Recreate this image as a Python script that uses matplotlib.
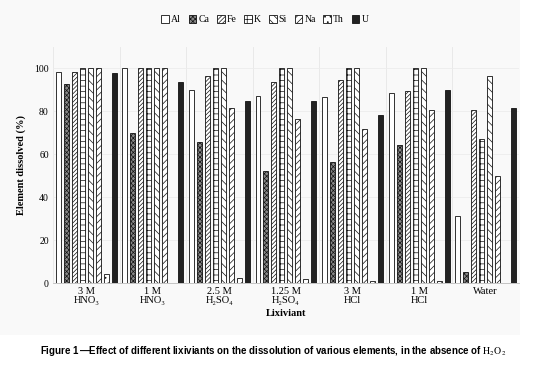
import matplotlib
matplotlib.use("Agg")
import matplotlib.pyplot as plt
from matplotlib.patches import Rectangle
import numpy as np

plt.rcParams['mathtext.fontset'] = 'stix'
plt.rcParams['hatch.linewidth'] = 0.5

# data
lixiviants = ["3 M\nHNO₃", "1 M\nHNO₃", "2.5 M\nH₂SO₄", "1.25 M\nH₂SO₄",
              "3 M\nHCl", "1 M\nHCl", "Water"]
elements = ["Al", "Ca", "Fe", "K", "Si", "Na", "Th", "U"]
al = [98.4, 100, 90.0, 87.0, 86.7, 88.5, 31.3]
ca = [92.6, 69.9, 65.6, 52.0, 56.6, 64.3, 5.1]
fe = [98.3, 100, 96.6, 93.8, 94.4, 89.6, 80.5]
k = [100, 100, 100, 100, 100, 100, 67.1]
si = [100, 100, 100, 100, 100, 100, 96.6]
na = [100, 100, 81.4, 76.4, 71.8, 80.5, 49.8]
th = [4.0, 0, 2.3, 2.0, 1.0, 1.0, 0]
u = [97.8, 93.8, 85.0, 85.0, 78.3, 90.0, 81.6]
series = [al, ca, fe, k, si, na, th, u]

hatches = ['', 'xxxxxxx', '////////', '+++', '\\\\\\\\', '/////', '...', '']
faces = ['white', '#888888', 'white', 'white', 'white', 'white', 'white', '#222222']

serif = ['Liberation Serif', 'DejaVu Serif']

fig = plt.figure(figsize=(5.35, 3.69), dpi=100)
fig.patches.append(Rectangle((0, 0.092), 0.972, 0.908, transform=fig.transFigure,
                             facecolor='#f9f9f9', edgecolor='none', zorder=-10))
ax = fig.add_axes([0.099, 0.233, 0.871, 0.64])
ax.set_facecolor('none')

x = np.arange(len(lixiviants))
step = 0.12
w = 0.075
for j, (name, vals) in enumerate(zip(elements, series)):
    ax.bar(x + (j - 3.5) * step, vals, width=w, facecolor=faces[j],
           edgecolor='#111111', linewidth=0.6, hatch=hatches[j], label=name, zorder=3)

ax.set_xlim(-0.5, len(lixiviants) - 0.5)
ax.set_ylim(0, 110)
ax.set_yticks(range(0, 101, 20))
ax.set_xticks(x)
ax.set_xticklabels(lixiviants, family=serif, fontsize=7.5, linespacing=1.0)
for t in ax.get_yticklabels():
    t.set_family(serif)
    t.set_fontsize(7)
ax.set_xticks(np.arange(-0.5, len(lixiviants)), minor=True)
ax.grid(axis='x', which='minor', color='#e6e6e6', linewidth=0.6, zorder=0)
ax.grid(axis='y', which='major', color='#ececec', linewidth=0.6, zorder=0)
ax.tick_params(length=0, which='both', pad=3)
for s in ['top', 'right', 'left']:
    ax.spines[s].set_visible(False)
ax.spines['bottom'].set_color('#bbbbbb')
ax.spines['bottom'].set_linewidth(0.6)

ax.set_ylabel("Element dissolved (%)", family=serif, fontsize=7.5, fontweight='bold', labelpad=6)
ax.set_xlabel("Lixiviant", family=serif, fontsize=7.5, fontweight='bold', labelpad=3)

leg = fig.legend(loc='center', bbox_to_anchor=(0.495, 0.946), ncol=8, frameon=False,
                 prop={'family': serif, 'size': 7}, handlelength=0.8, handleheight=0.8,
                 handletextpad=0.2, columnspacing=0.8)

fig.text(0.51, 0.048, r"Figure 1$\,$—Effect of different lixiviants on the dissolution of various elements, in the absence of $\mathrm{H_2O_2}$",
         ha='center', va='center', fontsize=7.0, fontweight='bold',
         family=['Liberation Sans Narrow', 'Liberation Sans', 'DejaVu Sans'])

fig.savefig("out.png", dpi=100)
